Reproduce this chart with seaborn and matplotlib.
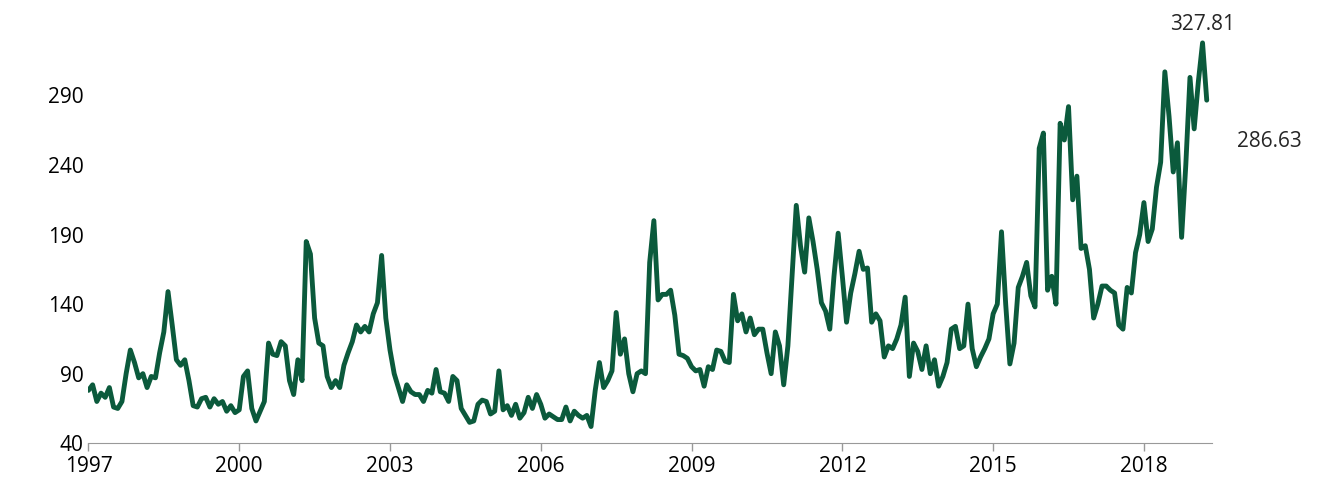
import numpy as np
import pandas as pd
import matplotlib.pyplot as plt
import seaborn as sns

# monthly values from Jan 1997
values = [78, 82, 70, 76, 73, 80, 66, 65, 70, 90, 107, 98, 87, 90, 80, 88, 87, 105, 120, 149,
          125, 100, 96, 100, 85, 67, 66, 72, 73, 66, 72, 68, 70, 63, 67, 62, 64, 88, 92, 65,
          56, 63, 70, 112, 104, 103, 113, 110, 85, 75, 100, 85, 185, 176, 130, 112, 110, 88, 80, 85,
          80, 96, 105, 113, 125, 120, 124, 120, 133, 141, 175, 130, 107, 90, 80, 70, 82, 77, 75, 75,
          70, 78, 76, 93, 77, 76, 70, 88, 85, 65, 60, 55, 56, 68, 71, 70, 61, 63, 92, 64,
          67, 60, 68, 58, 62, 73, 65, 75, 68, 58, 61, 59, 57, 57, 66, 56, 63, 60, 58, 60,
          52, 78, 98, 80, 85, 92, 134, 104, 115, 90, 77, 90, 92, 90, 170, 200, 143, 147, 147, 150,
          132, 104, 103, 101, 95, 92, 93, 81, 95, 93, 107, 106, 99, 98, 147, 128, 133, 120, 130, 118,
          122, 122, 105, 90, 120, 110, 82, 110, 160, 211, 182, 163, 202, 185, 165, 141, 135, 122, 160, 191,
          160, 127, 148, 162, 178, 165, 166, 127, 133, 128, 102, 110, 108, 115, 125, 145, 88, 112, 106, 93,
          110, 90, 100, 81, 88, 98, 122, 124, 108, 110, 140, 108, 95, 102, 108, 115, 133, 140, 192, 140,
          97, 112, 152, 160, 170, 146, 138, 252, 263, 150, 160, 140, 270, 258, 282, 215, 232, 180, 182, 165,
          130, 140, 153, 153, 150, 148, 125, 122, 152, 148, 177, 190, 213, 185, 194, 224, 242, 307, 275, 235,
          256, 188, 240, 303, 266, 300, 327.81, 286.63]
x_ticks = [1997, 2000, 2003, 2006, 2009, 2012, 2015, 2018]
y_ticks = [40, 90, 140, 190, 240, 290]

df = pd.DataFrame({"value": values})
df["year"] = 1997 + np.arange(len(values)) / 12

sns.set_style("white")
plt.rcParams['font.family'] = ['Open Sans', 'DejaVu Sans']
fig, ax = plt.subplots(figsize=(13.2, 4.98), dpi=100)
sns.lineplot(data=df, x="year", y="value", ax=ax, color="#0b5a3c", linewidth=3.5)

peak = df["value"].idxmax()
ax.annotate(f"{df['value'][peak]:.2f}", (df["year"][peak], df["value"][peak]),
            xytext=(0, 6), textcoords="offset points", ha="center", va="bottom", fontsize=15)
last = df.index[-1]
ax.annotate(f"{df['value'][last]:.2f}", (df["year"][last], df["value"][last]),
            xytext=(22, -30), textcoords="offset points", ha="left", va="center", fontsize=15)

ax.set_xlim(1997, df["year"].iloc[-1] + 0.1)
ax.set_ylim(40, 330)
ax.set_xticks(x_ticks)
ax.set_yticks(y_ticks)
ax.tick_params(axis="both", labelsize=15, colors="black")
ax.tick_params(axis="x", length=6, width=1, color="#999999", direction="out", bottom=True)
ax.tick_params(axis="y", length=0)
for s in ["top", "right", "left"]:
    ax.spines[s].set_visible(False)
ax.spines["bottom"].set_color("#999999")
ax.set_xlabel("")
ax.set_ylabel("")
fig.subplots_adjust(left=0.067, right=0.918, top=0.92, bottom=0.11)
fig.savefig("out.png")
